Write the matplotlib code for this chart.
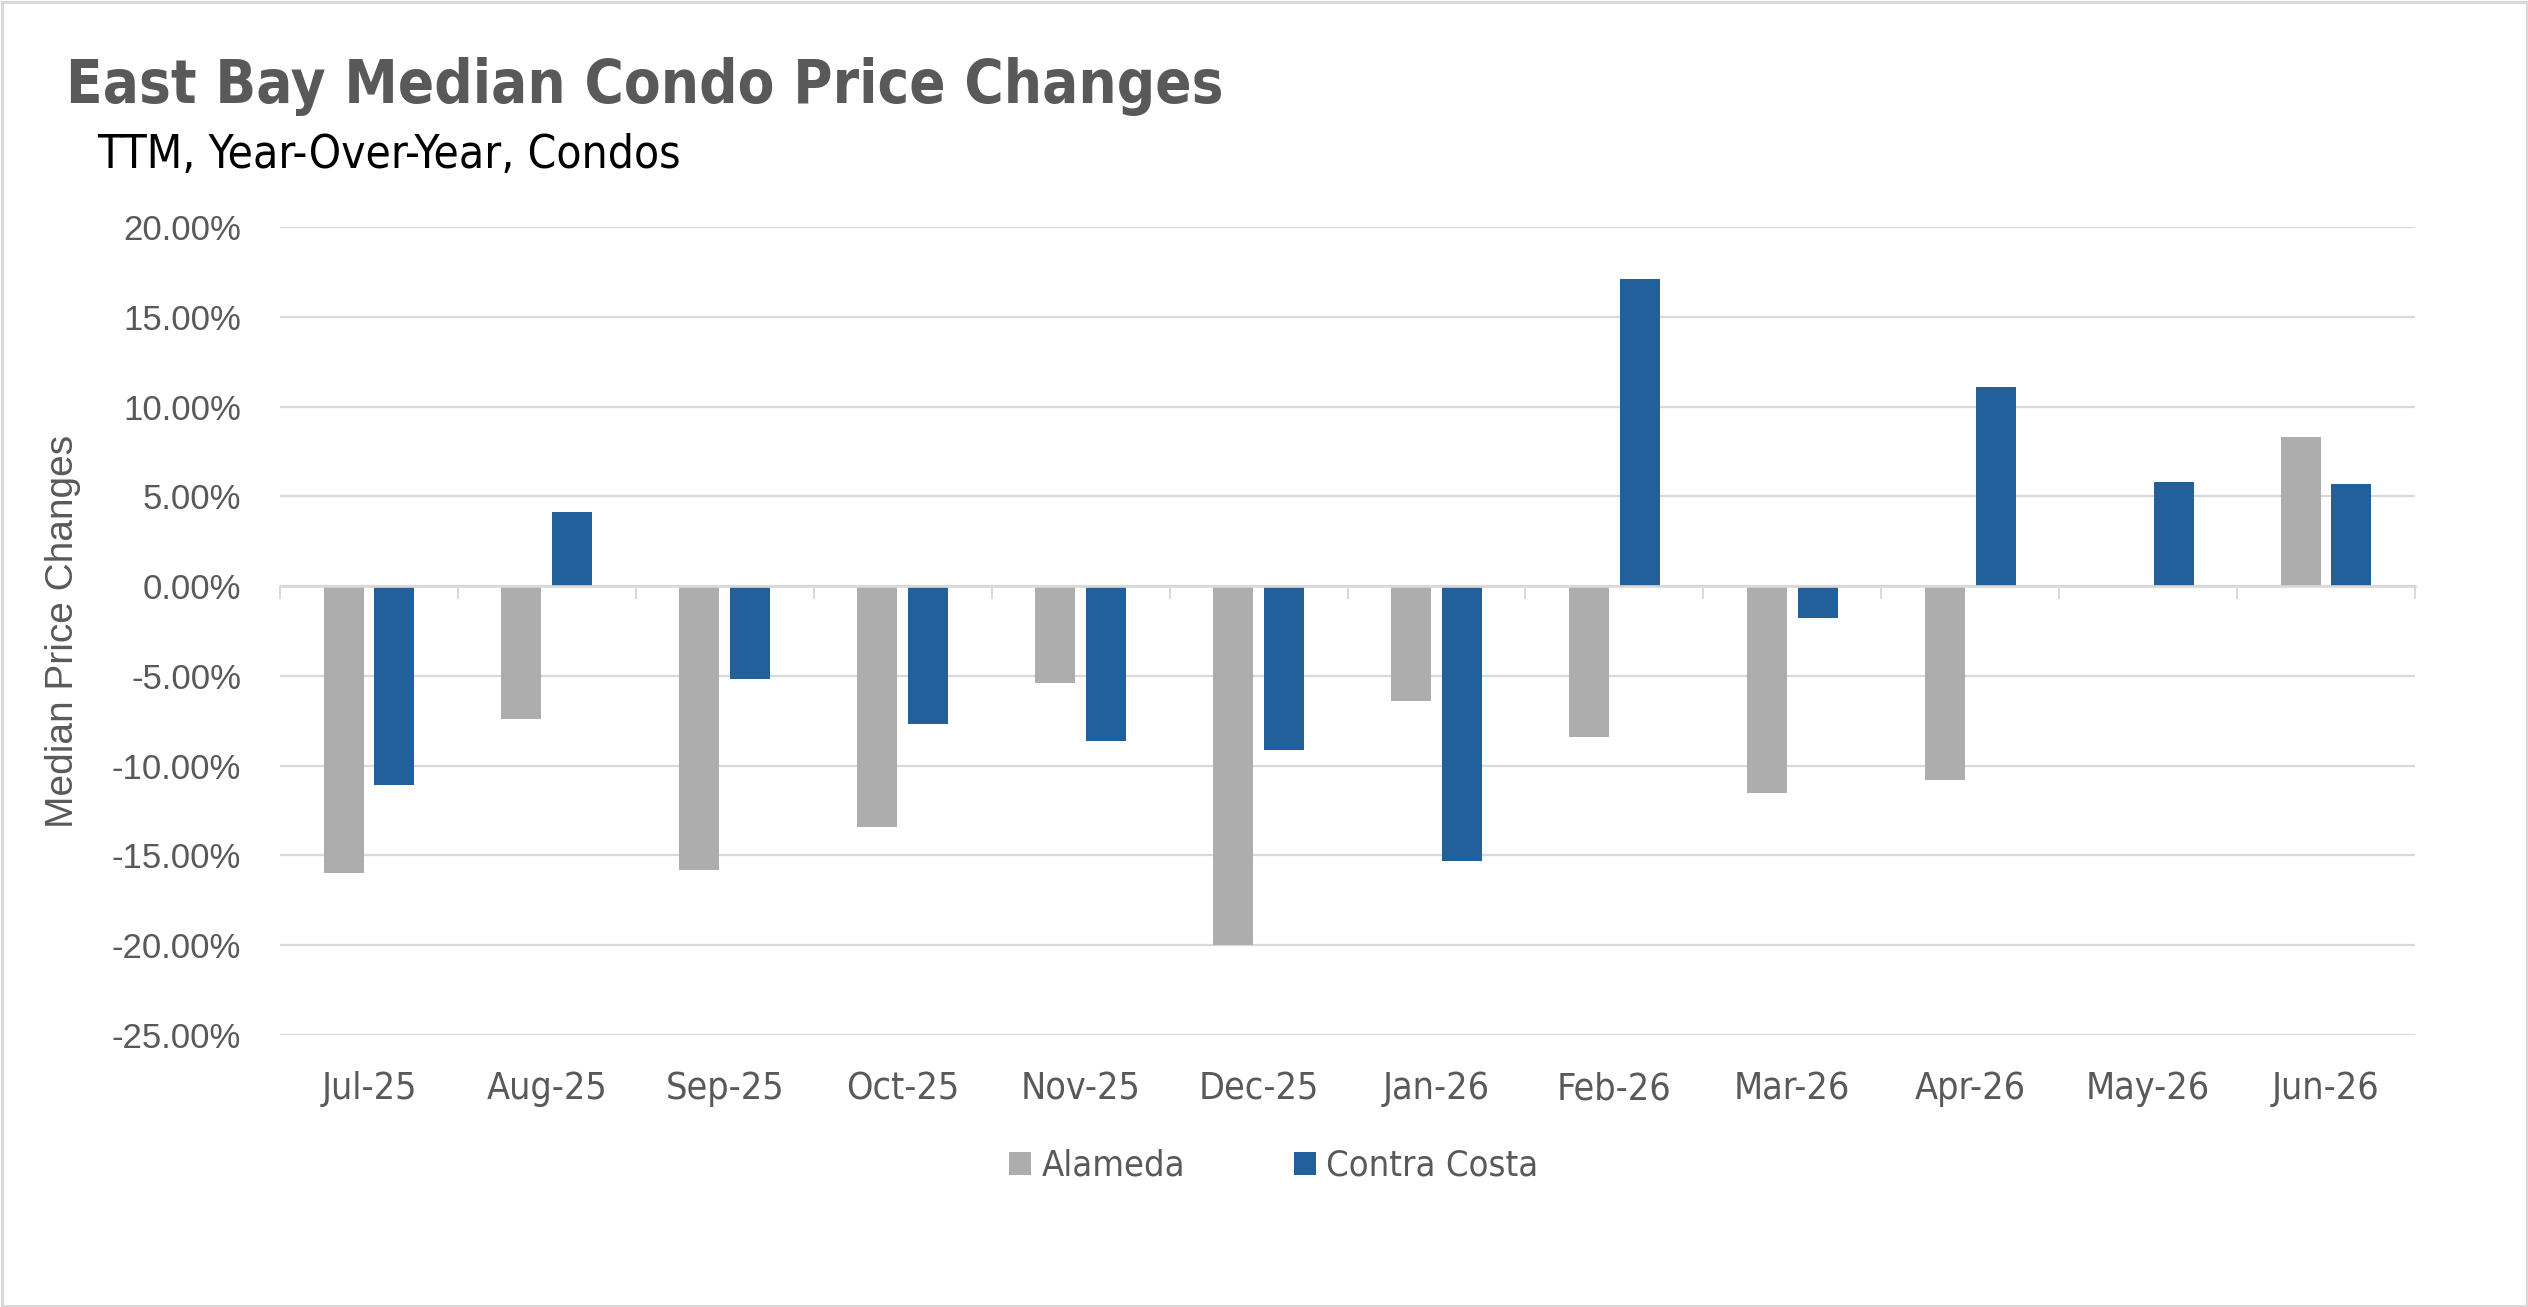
import numpy as np
import matplotlib
matplotlib.use("Agg")
import matplotlib.pyplot as plt
from matplotlib.patches import Patch, Rectangle
from matplotlib.ticker import FixedLocator, FuncFormatter
from matplotlib import font_manager as fm

months = ["Jul-25", "Aug-25", "Sep-25", "Oct-25", "Nov-25", "Dec-25",
          "Jan-26", "Feb-26", "Mar-26", "Apr-26", "May-26", "Jun-26"]
alameda = [-16.0, -7.4, -15.8, -13.4, -5.4, -20.0, -6.4, -8.4, -11.5, -10.8, 0.0, 8.3]
contra_costa = [-11.1, 4.1, -5.2, -7.7, -8.6, -9.1, -15.3, 17.1, -1.8, 11.1, 5.8, 5.7]
series_names = ["Alameda", "Contra Costa"]
yticks = [-25, -20, -15, -10, -5, 0, 5, 10, 15, 20]

GRAY = "#ADADAD"
BLUE = "#21609B"
TXT = "#595959"
GRID = "#D9D9D9"
REG = ["Liberation Sans", "DejaVu Sans"]

# pick a narrow font if one is installed
cond_path = fm.findfont(fm.FontProperties(family="DejaVu Sans", stretch="condensed"))
HAS_COND = "condensed" in cond_path.lower()
if HAS_COND:
    NARROW = dict(family="DejaVu Sans", stretch="condensed")
    title_size, sub_size, tick_size, leg_size = 43, 33, 27, 26
else:
    NARROW = dict(family="DejaVu Sans")
    title_size, sub_size, tick_size, leg_size = 38, 30, 25, 24

W, H = 2528, 1307
fig = plt.figure(figsize=(W / 100, H / 100), dpi=100)
fig.patch.set_facecolor("white")

ax = fig.add_axes([280 / W, 1 - 1035 / H, (2415 - 280) / W, (1035 - 227) / H])
x = np.arange(len(months))
bw = 0.225
off = 0.143
ax.bar(x - off, alameda, bw, color=GRAY, zorder=3)
ax.bar(x + off, contra_costa, bw, color=BLUE, zorder=3)

ax.set_xlim(-0.5, len(months) - 0.5)
ax.set_ylim(min(yticks), max(yticks))
ax.set_yticks(yticks)
ax.yaxis.set_major_formatter(FuncFormatter(lambda v, p: f"{v:.2f}%"))
ax.tick_params(axis="y", length=0, pad=28, labelsize=25, labelcolor=TXT)
for lab in ax.get_yticklabels():
    lab.set_fontfamily(REG)
ax.yaxis.grid(True, color=GRID, linewidth=1.6, zorder=0)
ax.set_axisbelow(True)

for s in ["left", "right", "top"]:
    ax.spines[s].set_visible(False)
ax.spines["bottom"].set_position(("data", 0))
ax.spines["bottom"].set_color(GRID)
ax.spines["bottom"].set_linewidth(1.9)
ax.spines["bottom"].set_zorder(4)
ax.set_xticks([])
ax.xaxis.set_minor_locator(FixedLocator(np.arange(len(months) + 1) - 0.5))
ax.tick_params(axis="x", which="minor", length=9, width=1.45, color=GRID, direction="out")

sec = ax.secondary_xaxis("bottom")
sec.set_xticks(x)
sec.set_xticklabels(months, fontsize=tick_size, color=TXT, **{"fontfamily": NARROW["family"]})
for lab in sec.get_xticklabels():
    lab.set_fontstretch(NARROW.get("stretch", "normal"))
sec.tick_params(length=0, pad=26)
sec.spines["bottom"].set_visible(False)

fig.text(63 / W, 1 - 631 / H, "Median Price Changes", rotation=90, ha="center",
         va="center", fontsize=28, color=TXT, fontfamily=REG)

fig.text(66 / W, 1 - 103 / H, "East Bay Median Condo Price Changes", ha="left",
         va="baseline", fontsize=title_size, fontweight="bold", color=TXT,
         fontfamily=NARROW["family"], fontstretch=NARROW.get("stretch", "normal"))
fig.text(97 / W, 1 - 168 / H, "TTM, Year-Over-Year, Condos", ha="left",
         va="baseline", fontsize=sub_size, color="black",
         fontfamily=NARROW["family"], fontstretch=NARROW.get("stretch", "normal"))

handles = [Patch(facecolor=GRAY, label=series_names[0]),
           Patch(facecolor=BLUE, label=series_names[1])]
leg = fig.legend(handles=handles, loc="center", bbox_to_anchor=(1274 / W, 1 - 1166 / H),
                 ncol=2, frameon=False, handlelength=0.6, handleheight=0.6,
                 handletextpad=0.3, columnspacing=3.0,
                 prop=fm.FontProperties(family=NARROW["family"],
                                        stretch=NARROW.get("stretch", "normal"),
                                        size=leg_size))
for t in leg.get_texts():
    t.set_color(TXT)

fig.patches.append(Rectangle((1.5 / W, 1.5 / H), 1 - 3 / W, 1 - 3 / H,
                             transform=fig.transFigure, fill=False,
                             edgecolor=GRID, linewidth=2.2))

fig.savefig("out.png", dpi=100, facecolor="white")
